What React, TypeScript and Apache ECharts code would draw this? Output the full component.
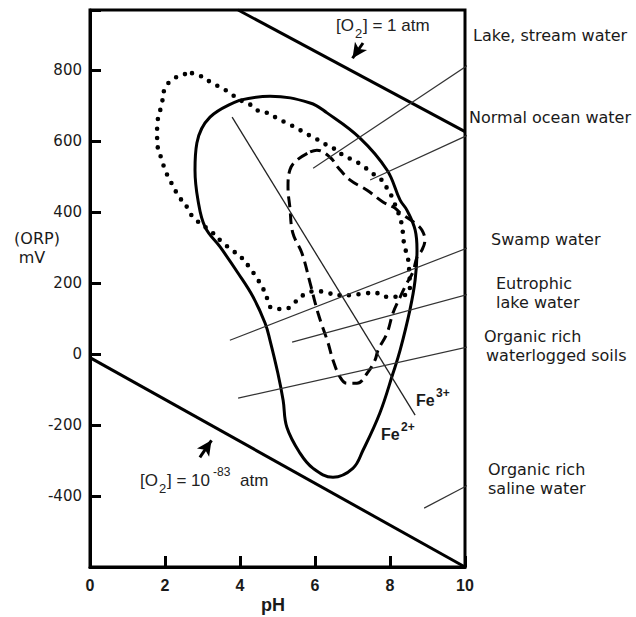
import React, { useEffect, useRef } from 'react';
import * as echarts from 'echarts';

// ---- Axis ticks ----
const xTickValues = [0, 2, 4, 6, 8, 10];
const yTickLabels = [-400, -200, 0, 200, 400, 600, 800];

// ---- Solid loop ----
const solidPH = [4.0, 4.8, 5.87, 6.32, 7.2, 7.92, 8.27, 8.45, 8.67, 8.72, 8.67, 8.53, 8.27, 8.08, 7.73, 7.28, 7.01, 6.48, 5.95, 5.6, 5.25, 5.15, 5.01, 4.8, 4.67, 4.35, 3.95, 3.47, 3.07, 2.88, 2.8, 2.85, 3.2];
const solidMV = [716, 727, 708, 680, 609, 519, 434, 406, 350, 293, 209, 124, 11, -54, -166, -271, -322, -347, -322, -279, -206, -130, -54, 39, 87, 161, 228, 302, 358, 434, 519, 595, 668];

// ---- Dotted loop ----
const dottedPH = [2.72, 3.01, 3.25, 3.52, 3.73, 4.0, 4.21, 4.45, 4.72, 4.99, 5.25, 5.52, 5.73, 6.0, 6.21, 6.48, 6.75, 7.01, 7.25, 7.52, 7.73, 7.92, 8.05, 8.32, 8.35, 8.4, 8.48, 8.53, 8.25, 7.95, 7.65, 7.33, 6.99, 6.67, 6.35, 6.05, 5.73, 5.47, 5.2, 4.85, 4.72, 4.61, 4.45, 4.27, 4.05, 3.79, 3.52, 3.28, 2.75, 2.59, 2.4, 2.27, 2.13, 2.0, 1.92, 1.81, 1.79, 1.79, 1.92, 2.0, 2.19, 2.45];
const dottedMV = [792, 781, 764, 750, 736, 716, 708, 688, 680, 665, 651, 637, 623, 609, 595, 581, 561, 547, 533, 510, 496, 468, 443, 364, 330, 299, 271, 180, 163, 161, 172, 172, 166, 166, 172, 178, 169, 147, 127, 130, 158, 186, 214, 242, 271, 293, 316, 341, 386, 414, 440, 462, 491, 519, 547, 581, 609, 640, 708, 750, 773, 787];

// ---- Dashed loop ----
const dashedPH = [5.87, 6.05, 6.4, 6.61, 6.93, 7.39, 7.81, 8.13, 8.27, 8.67, 8.85, 8.93, 8.85, 8.72, 8.61, 8.45, 8.27, 8.08, 7.92, 7.68, 7.6, 7.39, 7.12, 6.85, 6.67, 6.48, 6.35, 6.08, 5.87, 5.65, 5.41, 5.33, 5.28, 5.33, 5.52];
const dashedMV = [570, 575, 555, 527, 491, 462, 429, 412, 398, 369, 350, 321, 293, 273, 231, 200, 161, 116, 59, 11, -17, -54, -82, -82, -65, -17, 31, 116, 200, 285, 341, 414, 471, 519, 547];

// ---- Straight lines ----
const o2HighPH = [3.95, 10];
const o2HighMV = [970, 627];
const o2LowPH = [0, 10];
const o2LowMV = [-10, -600];
const feLinePH = [3.79, 8.67];
const feLineMV = [668, -172];

// ---- Leader lines (from point inside plot to label) ----
const leaderNames = ['Lake, stream water', 'Normal ocean water', 'Swamp water', 'Eutrophic lake water', 'Organic rich waterlogged soils', 'Organic rich saline water'];
const leaderFromPH = [5.95, 7.47, 3.73, 5.39, 3.95, 8.91];
const leaderFromMV = [524, 491, 39, 34, -124, -434];
const leaderToPH = [10.48, 10.48, 10.4, 10.4, 10.29, 10.43];
const leaderToMV = [843, 637, 313, 178, 25, -350];

// ---- Arrows ----
const arrowFromPH = [7.28, 2.93];
const arrowFromMV = [877, -291];
const arrowToPH = [7.0, 3.24];
const arrowToMV = [834, -243];

const AX_FONT = 'Liberation Sans';
const LBL_FONT = 'DejaVu Sans';

function zip(a: number[], b: number[]) {
  return a.map((v, i) => [v, b[i]]);
}
function closed(a: number[], b: number[]) {
  const d = zip(a, b);
  d.push(d[0]);
  return d;
}

function txt(x: number, y: number, text: string, size: number, family: string, weight: string = 'normal', align: string = 'left', color: string = '#1a1a1a') {
  return {
    type: 'text',
    x,
    y,
    silent: true,
    style: {
      text,
      fontSize: size,
      fontFamily: family,
      fontWeight: weight,
      fill: color,
      align,
      verticalAlign: 'middle',
    },
  };
}

export default function App() {
  const ref = useRef<HTMLDivElement>(null);
  useEffect(() => {
    const chart = echarts.init(ref.current!, null, { renderer: 'svg' });

    const lineSeries = (name: string, data: number[][], lineStyle: any, extra: any = {}) => ({
      type: 'line',
      name,
      data,
      symbol: 'none',
      showSymbol: false,
      silent: true,
      clip: false,
      lineStyle,
      emphasis: { disabled: true },
      ...extra,
    });

    const series: any[] = [
      lineSeries('solid', closed(solidPH, solidMV), { color: '#000', width: 3 }, { smooth: 0.4 }),
      lineSeries('dotted', closed(dottedPH, dottedMV), { color: '#000', width: 4.6, type: [0, 9.5], cap: 'round' }, { smooth: 0.4 }),
      lineSeries('dashed', closed(dashedPH, dashedMV), { color: '#000', width: 3, type: [11, 6] }, { smooth: 0.4 }),
      lineSeries('o2high', zip(o2HighPH, o2HighMV), { color: '#000', width: 3 }),
      lineSeries('o2low', zip(o2LowPH, o2LowMV), { color: '#000', width: 3 }),
      lineSeries('fe', zip(feLinePH, feLineMV), { color: '#222', width: 1.3 }, {
        markLine: {
          silent: true,
          symbol: ['none', 'arrow'],
          symbolSize: [11, 15],
          label: { show: false },
          emphasis: { disabled: true },
          lineStyle: { color: '#000', width: 3, type: 'solid' },
          data: arrowFromPH.map((_, i) => [
            { coord: [arrowFromPH[i], arrowFromMV[i]] },
            { coord: [arrowToPH[i], arrowToMV[i]] },
          ]),
        },
      }),
    ];
    leaderNames.forEach((n, i) => {
      series.push(lineSeries(n, [[leaderFromPH[i], leaderFromMV[i]], [leaderToPH[i], leaderToMV[i]]], { color: '#333', width: 1.2 }));
    });

    const graphic: any[] = [
      // axis titles
      txt(37, 238, '(ORP)', 16, LBL_FONT, 'normal', 'center'),
      txt(32, 257, 'mV', 16, LBL_FONT, 'normal', 'center'),
      txt(273, 605, 'pH', 18, AX_FONT, 'bold', 'center'),
      // right-side labels
      txt(473, 35, 'Lake, stream water', 16, LBL_FONT),
      txt(469, 117, 'Normal ocean water', 16, LBL_FONT),
      txt(491, 239, 'Swamp water', 16, LBL_FONT),
      txt(496, 283, 'Eutrophic', 16, LBL_FONT),
      txt(496, 302, 'lake water', 16, LBL_FONT),
      txt(484, 336, 'Organic rich', 16, LBL_FONT),
      txt(486, 355, 'waterlogged soils', 16, LBL_FONT),
      txt(488, 469, 'Organic rich', 16, LBL_FONT),
      txt(488, 488, 'saline water', 16, LBL_FONT),
      // [O2] = 1 atm
      txt(336, 25, '[O', 17, AX_FONT, 'normal', 'left', '#222'),
      txt(355, 33, '2', 13, AX_FONT, 'normal', 'left', '#222'),
      txt(363, 25, '] = 1 atm', 17, AX_FONT, 'normal', 'left', '#222'),
      // [O2] = 10^-83 atm
      txt(140, 480, '[O', 17, AX_FONT, 'normal', 'left', '#222'),
      txt(159, 488, '2', 13, AX_FONT, 'normal', 'left', '#222'),
      txt(167, 480, '] = 10', 17, AX_FONT, 'normal', 'left', '#222'),
      txt(213, 472, '-83', 12, AX_FONT, 'normal', 'left', '#222'),
      txt(240, 480, 'atm', 17, AX_FONT, 'normal', 'left', '#222'),
      // Fe labels
      txt(416, 400, 'Fe', 16, AX_FONT, 'bold'),
      txt(436, 393, '3+', 12, AX_FONT, 'bold'),
      txt(381, 434, 'Fe', 16, AX_FONT, 'bold'),
      txt(401, 427, '2+', 12, AX_FONT, 'bold'),
    ];

    chart.setOption({
      animation: false,
      backgroundColor: '#fff',
      grid: {
        left: 90,
        right: 171,
        top: 10,
        bottom: 50,
        show: true,
        borderColor: '#000',
        borderWidth: 3,
        backgroundColor: 'transparent',
      },
      xAxis: {
        type: 'value',
        min: 0,
        max: 10,
        interval: 2,
        axisLine: { show: true, onZero: false, lineStyle: { color: '#000', width: 3 } },
        axisTick: { show: true, inside: true, length: 11, lineStyle: { color: '#000', width: 3 } },
        axisLabel: {
          margin: 10,
          fontFamily: AX_FONT,
          fontWeight: 'bold',
          fontSize: 16,
          color: '#1a1a1a',
          formatter: (v: number) => (xTickValues.includes(v) ? String(v) : ''),
        },
        splitLine: { show: false },
      },
      yAxis: {
        type: 'value',
        min: -600,
        max: 970,
        interval: 200,
        axisLine: { show: true, onZero: false, lineStyle: { color: '#000', width: 3 } },
        axisTick: { show: true, inside: true, length: 11, lineStyle: { color: '#000', width: 3 } },
        axisLabel: {
          margin: 8,
          fontFamily: LBL_FONT,
          fontSize: 15,
          color: '#1a1a1a',
          formatter: (v: number) => (yTickLabels.includes(v) ? String(v) : ''),
        },
        splitLine: { show: false },
      },
      series,
      graphic,
    });

    return () => chart.dispose();
  }, []);

  return (
    <div
      ref={ref}
      style={{ position: 'fixed', left: 0, top: 0, width: 636, height: 617, background: '#fff' }}
    />
  );
}
